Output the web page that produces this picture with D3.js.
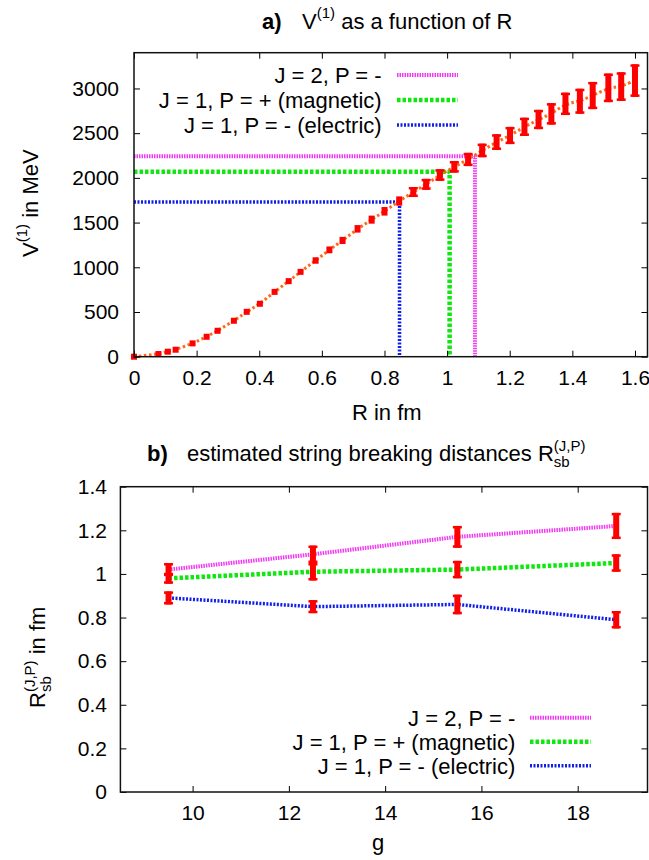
<!DOCTYPE html>
<html>
<head>
<meta charset="utf-8">
<script src="https://cdn.jsdelivr.net/npm/d3@7"></script>
<style>
    body { margin: 0; background: #fff; }
    svg { display: block; }
</style>
</head>
<body>
<div id="chart"></div>
<script>
// panel a) : V(1) vs R, lattice points with errors
var rValues = [0, 0.078, 0.108, 0.133, 0.187, 0.232, 0.267, 0.319, 0.360, 0.402, 0.449, 0.494, 0.532,
    0.580, 0.624, 0.666, 0.714, 0.759, 0.800, 0.847, 0.892, 0.933, 0.977, 1.023, 1.067, 1.112, 1.158,
    1.201, 1.247, 1.292, 1.333, 1.378, 1.424, 1.465, 1.515, 1.556, 1.600];
var vValues = [0, 30, 56, 78, 149, 223, 290, 402, 502, 592, 725, 845, 949,
    1076, 1195, 1300, 1430, 1533, 1626, 1741, 1842, 1928, 2032, 2124, 2206, 2307, 2400,
    2474, 2571, 2653, 2716, 2828, 2857, 2921, 3007, 3021, 3088];
var vErrors = [0, 5, 8, 10, 12, 15, 18, 20, 22, 25, 28, 30, 33,
    36, 38, 40, 42, 45, 48, 52, 56, 61, 65, 65, 74, 76, 88,
    96, 102, 108, 120, 125, 140, 152, 160, 160, 182];

// channels: J=2 P=-, J=1 P=+ (magnetic), J=1 P=- (electric)
var channelLabels = ["J = 2, P = -", "J = 1, P = + (magnetic)", "J = 1, P = - (electric)"];
var breakR = [1.089, 1.008, 0.848];
var breakV = [2243, 2069, 1730];

// panel b) : string breaking distance vs g
var gValues = [9.5, 12.5, 15.5, 18.8];
var rsbJ2 = [1.02, 1.09, 1.17, 1.22];
var rsbJ2Err = [0.03, 0.04, 0.05, 0.06];
var rsbMagnetic = [0.98, 1.01, 1.02, 1.05];
var rsbMagneticErr = [0.025, 0.04, 0.04, 0.04];
var rsbElectric = [0.89, 0.85, 0.86, 0.79];
var rsbElectricErr = [0.03, 0.03, 0.045, 0.04];

var xTicksA = [0, 0.2, 0.4, 0.6, 0.8, 1, 1.2, 1.4, 1.6];
var yTicksA = [0, 500, 1000, 1500, 2000, 2500, 3000];
var xTicksB = [10, 12, 14, 16, 18];
var yTicksB = [0, 0.2, 0.4, 0.6, 0.8, 1, 1.2, 1.4];

var FONT = "'Liberation Sans', Helvetica, Arial, sans-serif";
var lineStyles = [
    {color: "#f03cf0", width: 4, dash: "1.5,1"},
    {color: "#10e610", width: 4.5, dash: "3.5,2"},
    {color: "#1020e8", width: 3.5, dash: "2,1.5"}
];
var RED = "#ff0000", ORANGE = "#ff6a1a";

var svg = d3.select("#chart").append("svg")
    .attr("width", 649)
    .attr("height", 860)
    .style("font-family", FONT);

svg.append("rect").attr("width", 649).attr("height", 860).attr("fill", "#fff");

var panelA = {left: 134, right: 647.5, top: 52.7, bottom: 356.7},
    panelB = {left: 120.4, right: 647.5, top: 486.7, bottom: 792};

var xA = d3.scaleLinear().domain([0, 1.64]).range([panelA.left, panelA.right]);
var yA = d3.scaleLinear().domain([0, 3400]).range([panelA.bottom, panelA.top]);
var xB = d3.scaleLinear().domain([8.5, 19.45]).range([panelB.left, panelB.right]);
var yB = d3.scaleLinear().domain([0, 1.4]).range([panelB.bottom, panelB.top]);

function fmt(d) {
    return String(+d.toFixed(1));
}

function drawAxes(x, y, p, xt, yt, yPad) {
    var g = svg.append("g");
    g.append("g").attr("transform", "translate(0," + p.bottom + ")")
        .call(d3.axisBottom(x).tickValues(xt).tickSizeInner(-6).tickSizeOuter(0).tickPadding(13).tickFormat(fmt));
    g.append("g").attr("transform", "translate(0," + p.top + ")")
        .call(d3.axisTop(x).tickValues(xt).tickSizeInner(-6).tickSizeOuter(0).tickFormat(""));
    g.append("g").attr("transform", "translate(" + p.left + ",0)")
        .call(d3.axisLeft(y).tickValues(yt).tickSizeInner(-6).tickSizeOuter(0).tickPadding(yPad).tickFormat(fmt));
    g.append("g").attr("transform", "translate(" + p.right + ",0)")
        .call(d3.axisRight(y).tickValues(yt).tickSizeInner(-6).tickSizeOuter(0).tickFormat(""));

    g.selectAll(".domain").remove();
    g.selectAll(".tick line").attr("stroke", "#000").attr("stroke-width", 1);
    g.selectAll("g").attr("font-size", null).attr("font-family", null);
    g.selectAll(".tick text").attr("font-size", 21).attr("fill", "#000");

    g.append("rect")
        .attr("x", p.left).attr("y", p.top)
        .attr("width", p.right - p.left).attr("height", p.bottom - p.top)
        .attr("fill", "none").attr("stroke", "#111").attr("stroke-width", 1.5);
}

function drawErrorBars(g, xs, vs, es, x, y, w) {
    var idx = d3.range(xs.length);
    var top = function (i) { return Math.min(y(vs[i] + es[i]), y(vs[i]) - w / 2); },
        bot = function (i) { return Math.max(y(vs[i] - es[i]), y(vs[i]) + w / 2); };

    g.selectAll(null).data(idx).join("rect")
        .attr("x", function (i) { return x(xs[i]) - w / 2; })
        .attr("y", top)
        .attr("width", w)
        .attr("height", function (i) { return bot(i) - top(i); })
        .attr("fill", RED);

    // little caps on the long bars
    var capped = idx.filter(function (i) { return bot(i) - top(i) > 10; });
    [top, function (i) { return bot(i) - 2.5; }].forEach(function (pos) {
        g.selectAll(null).data(capped).join("rect")
            .attr("x", function (i) { return x(xs[i]) - w / 2 - 1.5; })
            .attr("y", pos)
            .attr("width", w + 3)
            .attr("height", 2.5)
            .attr("fill", RED);
    });
}

function drawLegend(textEnd, sampleX, rowsY) {
    var g = svg.append("g");
    channelLabels.forEach(function (label, i) {
        g.append("text")
            .attr("x", textEnd).attr("y", rowsY[i]).attr("dy", "0.36em")
            .attr("text-anchor", "end").attr("font-size", 22)
            .text(label);
        g.append("line")
            .attr("x1", sampleX[0]).attr("x2", sampleX[1])
            .attr("y1", rowsY[i]).attr("y2", rowsY[i])
            .attr("stroke", lineStyles[i].color)
            .attr("stroke-width", lineStyles[i].width)
            .attr("stroke-dasharray", lineStyles[i].dash);
    });
}

// text like  R^(J,P)_sb in fm  with stacked super/subscript
function stackedText(g, pre, sup, sub, post, supDy, subDy) {
    var text = g.append("text").attr("font-size", 22);
    text.append("tspan").attr("x", 0).attr("y", 0).text(pre);
    var w0 = text.node().getComputedTextLength();
    var s1 = text.append("tspan").attr("x", w0).attr("y", supDy).attr("font-size", 15).text(sup);
    var w = s1.node().getComputedTextLength();
    if (sub) {
        var s2 = text.append("tspan").attr("x", w0).attr("y", subDy).attr("font-size", 15).text(sub);
        w = Math.max(w, s2.node().getComputedTextLength());
    }
    if (post) text.append("tspan").attr("x", w0 + w).attr("y", 0).text(post);
    return text;
}

/* ---------- panel a ---------- */
var titleA = svg.append("g").attr("transform", "translate(262,28.5)");
titleA.append("text").attr("font-size", 22).attr("font-weight", "bold").text("a)");
stackedText(titleA.append("g").attr("transform", "translate(40,0)"),
    "V", "(1)", null, " as a function of R", -11, 0);

var gA = svg.append("g");

// breaking points: horizontal + vertical guides
breakR.forEach(function (r, i) {
    var st = lineStyles[i];
    gA.append("path")
        .attr("d", "M" + xA(0) + "," + yA(breakV[i]) + "H" + xA(r) + "V" + yA(0))
        .attr("fill", "none")
        .attr("stroke", st.color)
        .attr("stroke-width", st.width)
        .attr("stroke-dasharray", st.dash);
});

var fitLine = d3.line()
    .x(function (i) { return xA(rValues[i]); })
    .y(function (i) { return yA(vValues[i]); })
    .curve(d3.curveBasis);

gA.append("path")
    .attr("d", fitLine(d3.range(rValues.length)))
    .attr("fill", "none")
    .attr("stroke", ORANGE)
    .attr("stroke-width", 3)
    .attr("stroke-dasharray", "2.5,2.5");

drawErrorBars(gA, rValues, vValues, vErrors, xA, yA, 6);

drawAxes(xA, yA, panelA, xTicksA, yTicksA, 15);
drawLegend(381.6, [397, 458], [75, 100, 125]);

svg.append("text")
    .attr("x", (panelA.left + panelA.right) / 2 - 4).attr("y", 419.5)
    .attr("text-anchor", "middle").attr("font-size", 22)
    .text("R in fm");

stackedText(svg.append("g").attr("transform", "translate(38,257) rotate(-90)"),
    "V", "(1)", null, " in MeV", -11, 0);

/* ---------- panel b ---------- */
var titleB = svg.append("g").attr("transform", "translate(147,461)");
titleB.append("text").attr("font-size", 22).attr("font-weight", "bold").text("b)");
stackedText(titleB.append("g").attr("transform", "translate(40,0)"),
    "estimated string breaking distances R", "(J,P)", "sb", null, -10, 6);

var gB = svg.append("g");
var seriesB = [rsbJ2, rsbMagnetic, rsbElectric],
    errorsB = [rsbJ2Err, rsbMagneticErr, rsbElectricErr];

var lineB = d3.line()
    .x(function (d, i) { return xB(gValues[i]); })
    .y(function (d) { return yB(d); });

seriesB.forEach(function (s, k) {
    gB.append("path")
        .attr("d", lineB(s))
        .attr("fill", "none")
        .attr("stroke", lineStyles[k].color)
        .attr("stroke-width", lineStyles[k].width)
        .attr("stroke-dasharray", lineStyles[k].dash);
});
seriesB.forEach(function (s, k) {
    drawErrorBars(gB, gValues, s, errorsB[k], xB, yB, 6);
});

drawAxes(xB, yB, panelB, xTicksB, yTicksB, 13.5);
drawLegend(515.3, [530, 591], [717.7, 741.7, 765.7]);

svg.append("text")
    .attr("x", 378).attr("y", 850)
    .attr("text-anchor", "middle").attr("font-size", 22)
    .text("g");

stackedText(svg.append("g").attr("transform", "translate(45,708) rotate(-90)"),
    "R", "(J,P)", "sb", " in fm", -10, 6);
</script>
</body>
</html>
